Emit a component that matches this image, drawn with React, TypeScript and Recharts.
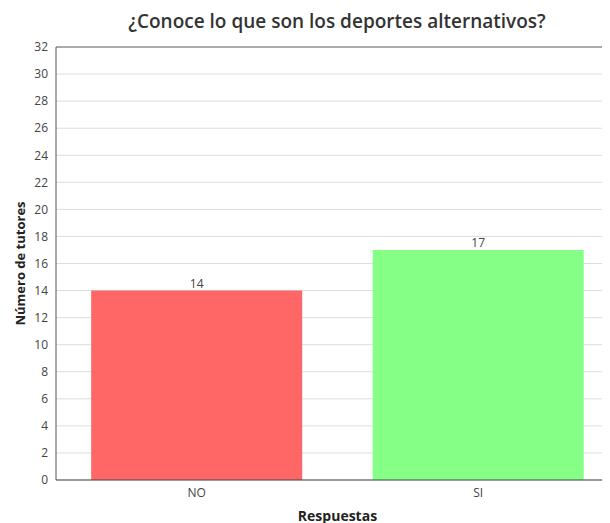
import React from "react";
import { BarChart, Bar, XAxis, YAxis, CartesianGrid, LabelList, Cell, ReferenceLine } from "recharts";

const categories = ["NO", "SI"];
const values = [14, 17];
const colors = ["#ff6666", "#85ff85"];
const yTicks = [0, 2, 4, 6, 8, 10, 12, 14, 16, 18, 20, 22, 24, 26, 28, 30, 32];

const data = categories.map((c, i) => ({ name: c, value: values[i] }));
const font = "'Open Sans', sans-serif";

export default function App() {
  return (
    <div style={{ position: "relative", width: 602, height: 515, overflow: "hidden", fontFamily: font }}>
      <div
        style={{
          position: "absolute",
          left: 48,
          width: 562,
          top: 0,
          textAlign: "center",
          fontSize: 19,
          fontWeight: 600,
          color: "#333",
          fontFamily: font,
        }}
      >
        ¿Conoce lo que son los deportes alternativos?
      </div>
      <BarChart
        width={620}
        height={515}
        data={data}
        margin={{ top: 39, right: 9, left: 0, bottom: 13 }}
        barCategoryGap="12.5%"
      >
        <CartesianGrid horizontal vertical={false} stroke="#dddddd" />
        <ReferenceLine y={32} stroke="#666" strokeWidth={1} />
        <XAxis
          dataKey="name"
          height={30}
          tickLine={false}
          axisLine={{ stroke: "#444" }}
          tick={{ fill: "#444", fontSize: 12, fontFamily: font }}
          label={{ value: "Respuestas", position: "insideBottom", offset: -11, fill: "#222", fontSize: 14, fontWeight: 700, fontFamily: font }}
        />
        <YAxis
          width={48}
          domain={[0, 32]}
          ticks={yTicks}
          interval={0}
          tickLine={false}
          axisLine={{ stroke: "#555" }}
          tick={{ fill: "#444", fontSize: 12, fontFamily: font }}
          label={{ value: "Número de tutores", angle: -90, position: "insideLeft", offset: 12, fill: "#222", fontSize: 13, fontWeight: 700, fontFamily: font, style: { textAnchor: "middle" } }}
        />
        <Bar dataKey="value" isAnimationActive={false}>
          {data.map((d, i) => (
            <Cell key={d.name} fill={colors[i]} />
          ))}
          <LabelList dataKey="value" position="top" offset={3} fill="#444" fontSize={12} fontFamily={font} />
        </Bar>
      </BarChart>
    </div>
  );
}
